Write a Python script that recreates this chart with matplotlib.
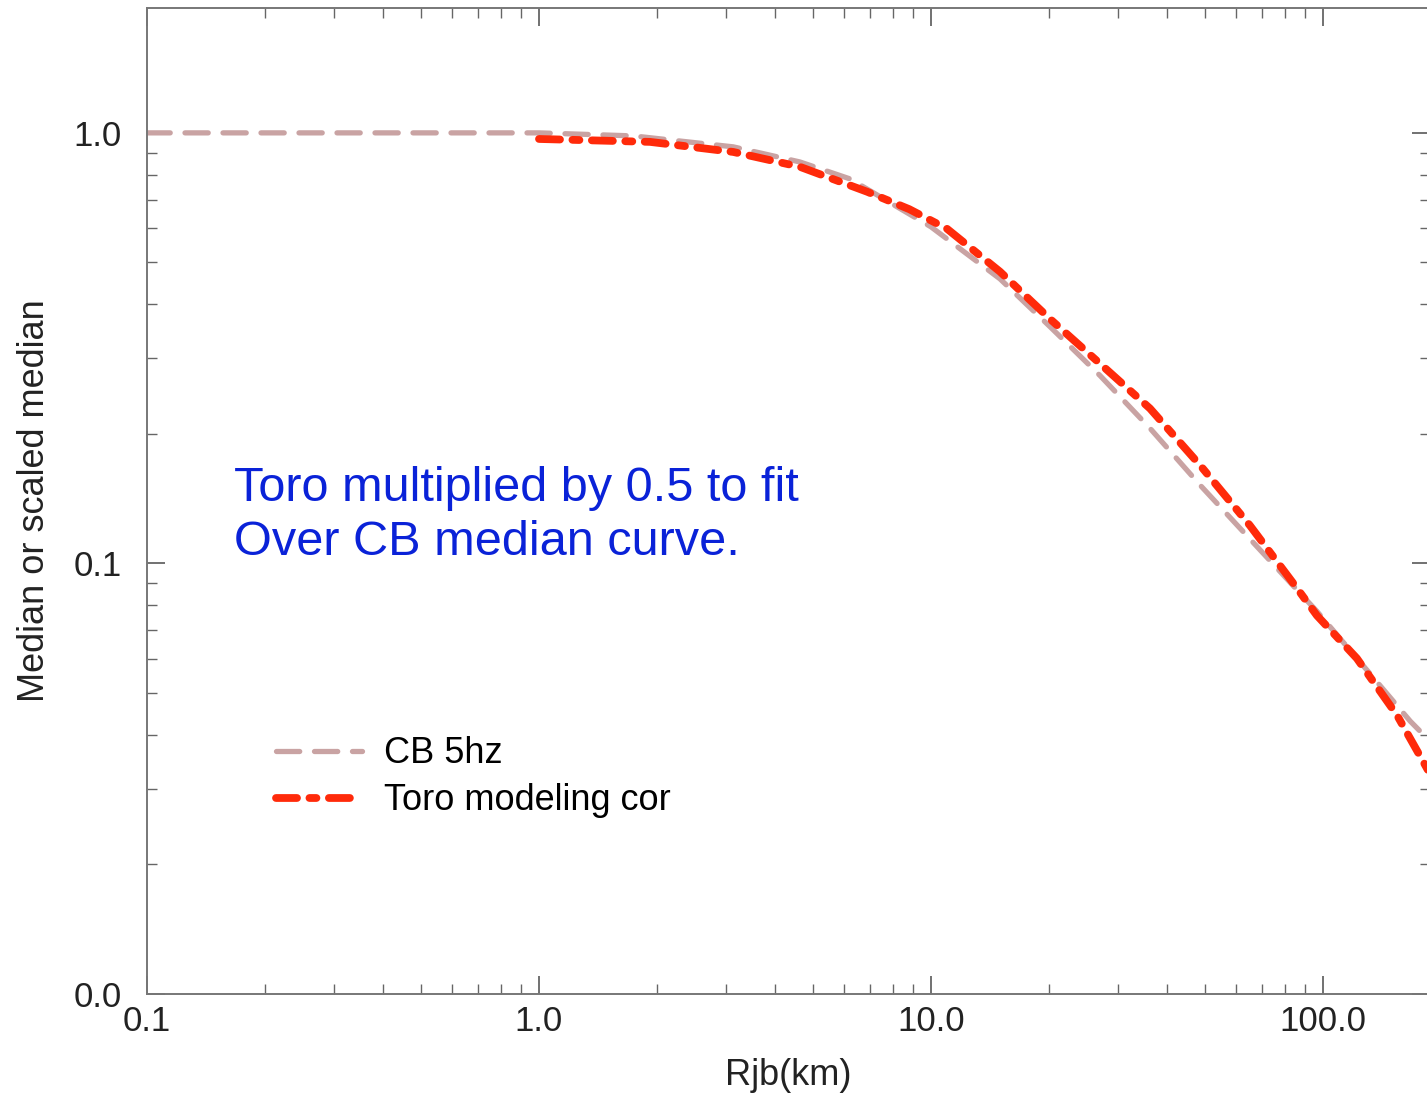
import numpy as np
import matplotlib.pyplot as plt
from matplotlib.ticker import FixedLocator, NullFormatter, LogLocator

plt.rcParams['font.family'] = ['Liberation Sans', 'DejaVu Sans']

# CB 5 Hz median vs distance
cb_x = [0.1, 0.3, 1.0, 1.74, 3.13, 4.63, 6.21, 10.0, 15.0, 20.1, 27.0,
        36.2, 48.6, 65.1, 96.5, 124.0, 167.0, 200.0]
cb_y = [1.0, 1.0, 1.0, 0.984, 0.928, 0.856, 0.782, 0.605, 0.458, 0.355,
        0.273, 0.206, 0.152, 0.114, 0.0774, 0.0592, 0.043, 0.0364]

# Toro model correction (scaled by 0.5)
toro_x = [1.0, 1.92, 3.13, 4.63, 6.87, 8.8, 10.98, 15.0, 20.1, 27.0, 36.2,
          48.6, 65.1, 85.9, 96.5, 122.0, 154.5, 180.0, 200.0]
toro_y = [0.968, 0.953, 0.903, 0.834, 0.730, 0.665, 0.599, 0.476, 0.370,
          0.291, 0.229, 0.169, 0.1225, 0.0875, 0.0757, 0.0602, 0.0444,
          0.0347, 0.0292]

x_ticks = [0.1, 1.0, 10.0, 100.0]
x_labels = ['0.1', '1.0', '10.0', '100.0']
y_ticks = [0.01, 0.1, 1.0]
y_labels = ['0.0', '0.1', '1.0']

W, H = 1427, 1095
fig = plt.figure(figsize=(W / 100, H / 100), dpi=100)
ax = fig.add_axes([147 / W, (H - 994) / H, (1430 - 147) / W, (994 - 8) / H])

ax.set_xscale('log')
ax.set_yscale('log')

ax.plot(cb_x, cb_y, color='#c9a3a3', lw=3.8, dashes=(4.4, 2.8),
        dash_capstyle='round', label='CB 5hz')
ax.plot(toro_x, toro_y, color='#ff2a0a', lw=5.6, dashes=(2.7, 1.6, 0.9, 1.6),
        dash_capstyle='round', label='Toro modeling cor')

ax.set_xlim(0.1, 187.5)
ax.set_ylim(0.01, 1.95)

ax.xaxis.set_major_locator(FixedLocator(x_ticks))
ax.set_xticklabels(x_labels)
ax.yaxis.set_major_locator(FixedLocator(y_ticks))
ax.set_yticklabels(y_labels)
for axis in (ax.xaxis, ax.yaxis):
    axis.set_minor_locator(LogLocator(base=10, subs=np.arange(2, 10)))
    axis.set_minor_formatter(NullFormatter())

ax.tick_params(which='both', direction='in', top=True, right=True,
               color='#666666', labelsize=25, labelcolor='#222222')
ax.tick_params(which='major', length=13, width=1.3)
ax.tick_params(which='minor', length=7, width=1.0)
ax.tick_params(axis='y', pad=18)
ax.tick_params(axis='x', pad=8)

for sp in ax.spines.values():
    sp.set_color('#777777')
    sp.set_linewidth(1.4)

ax.set_xlabel('Rjb(km)', fontsize=26, color='#222222', labelpad=14)
ax.set_ylabel('Median or scaled median', fontsize=26, color='#222222',
              labelpad=16)

ax.legend(loc='upper left', bbox_to_anchor=(0.089, 0.276), frameon=False,
          fontsize=26, handlelength=2.4, handletextpad=0.6,
          labelspacing=0.33, borderaxespad=0)

fig.text(234 / W, 1 - 466 / H,
         'Toro multiplied by 0.5 to fit\nOver CB median curve.',
         fontsize=35, color='#0a22d8', va='top', ha='left', linespacing=1.25)

fig.savefig('out.png', dpi=100)
